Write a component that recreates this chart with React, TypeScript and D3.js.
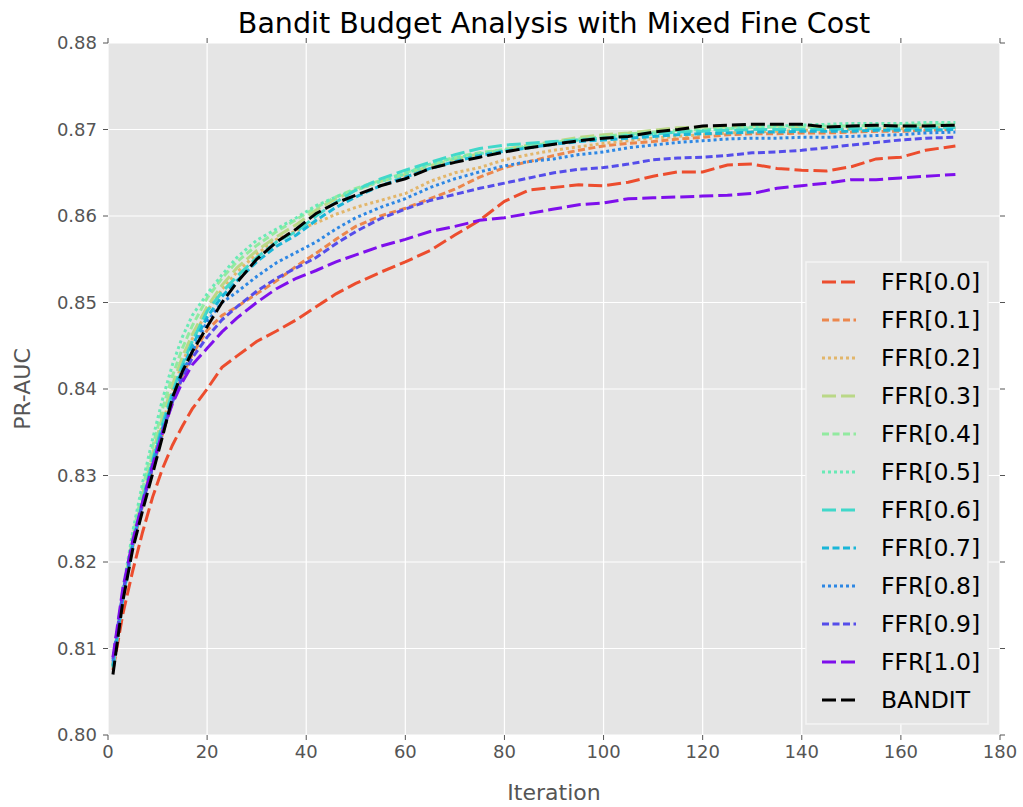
import React from "react";
import * as d3 from "d3";

// ---------- data ----------
const ITER = [1, 3, 5, 7, 9, 11, 13, 15, 17, 20, 23, 26, 30, 34, 38, 42, 46, 50, 55, 60, 65, 70, 75, 80, 85, 90, 95, 100, 105, 110, 115, 120, 125, 130, 135, 140, 145, 150, 155, 160, 165, 171];

const FFR_00 = [.8075, .8140, .8190, .8235, .8275, .8308, .8335, .8357, .8377, .8400, .8425, .8438, .8455, .8467, .8480, .8495, .8510, .8522, .8535, .8547, .8560, .8578, .8595, .8617, .8630, .8633, .8636, .8635, .8639, .8646, .8651, .8651, .8659, .8660, .8655, .8653, .8652, .8657, .8666, .8668, .8676, .8681];
const FFR_01 = [.8082, .8160, .8218, .8266, .8308, .8348, .8385, .8415, .8440, .8468, .8485, .8495, .8510, .8525, .8542, .8557, .8573, .8588, .8600, .8609, .8620, .8631, .8645, .8656, .8663, .8670, .8676, .8681, .8684, .8686, .8689, .8691, .8694, .8695, .8695, .8696, .8696, .8697, .8698, .8698, .8699, .8700];
const FFR_02 = [.8080, .8160, .8222, .8272, .8318, .8360, .8398, .8430, .8458, .8490, .8515, .8535, .8556, .8573, .8583, .8592, .8602, .8610, .8618, .8626, .8640, .8650, .8656, .8665, .8671, .8676, .8680, .8684, .8687, .8690, .8692, .8694, .8696, .8697, .8698, .8699, .8700, .8700, .8701, .8701, .8702, .8702];
const FFR_03 = [.8078, .8160, .8225, .8278, .8325, .8368, .8405, .8437, .8463, .8495, .8520, .8540, .8560, .8576, .8590, .8607, .8620, .8630, .8640, .8648, .8658, .8666, .8672, .8677, .8682, .8686, .8691, .8694, .8696, .8699, .8702, .8703, .8703, .8704, .8704, .8703, .8703, .8703, .8704, .8704, .8705, .8705];
const FFR_04 = [.8080, .8165, .8230, .8285, .8333, .8377, .8415, .8447, .8473, .8505, .8528, .8547, .8566, .8582, .8596, .8610, .8622, .8632, .8641, .8650, .8660, .8668, .8673, .8677, .8681, .8685, .8689, .8692, .8695, .8697, .8699, .8700, .8701, .8702, .8703, .8703, .8704, .8704, .8705, .8705, .8706, .8706];
const FFR_05 = [.8080, .8168, .8235, .8292, .8342, .8388, .8428, .8460, .8485, .8510, .8532, .8552, .8572, .8585, .8598, .8612, .8622, .8630, .8640, .8649, .8660, .8667, .8672, .8676, .8680, .8684, .8688, .8690, .8693, .8695, .8697, .8699, .8701, .8703, .8704, .8705, .8706, .8707, .8707, .8707, .8708, .8708];
const FFR_06 = [.8078, .8158, .8220, .8272, .8318, .8360, .8396, .8428, .8455, .8490, .8512, .8530, .8552, .8570, .8582, .8600, .8616, .8630, .8643, .8653, .8662, .8671, .8678, .8682, .8684, .8686, .8688, .8690, .8693, .8695, .8697, .8698, .8699, .8700, .8700, .8700, .8700, .8701, .8701, .8701, .8702, .8702];
const FFR_07 = [.8080, .8160, .8220, .8270, .8315, .8355, .8392, .8423, .8450, .8483, .8507, .8525, .8547, .8565, .8578, .8595, .8610, .8622, .8635, .8645, .8655, .8663, .8670, .8675, .8679, .8683, .8686, .8688, .8690, .8692, .8694, .8695, .8696, .8697, .8697, .8698, .8698, .8698, .8699, .8699, .8699, .8700];
const FFR_08 = [.8085, .8163, .8220, .8268, .8310, .8350, .8387, .8418, .8443, .8478, .8500, .8512, .8530, .8546, .8558, .8570, .8585, .8598, .8610, .8620, .8633, .8643, .8651, .8658, .8663, .8666, .8671, .8674, .8679, .8682, .8685, .8687, .8689, .8690, .8690, .8691, .8691, .8692, .8693, .8694, .8696, .8697];
const FFR_09 = [.8088, .8165, .8222, .8268, .8310, .8350, .8385, .8413, .8436, .8460, .8480, .8495, .8513, .8528, .8540, .8552, .8568, .8582, .8597, .8608, .8618, .8625, .8632, .8638, .8644, .8650, .8654, .8656, .8660, .8665, .8667, .8668, .8670, .8673, .8674, .8676, .8679, .8682, .8685, .8688, .8690, .8691];
const FFR_10 = [.8090, .8170, .8225, .8270, .8312, .8350, .8383, .8408, .8428, .8447, .8466, .8482, .8500, .8516, .8528, .8537, .8547, .8555, .8565, .8573, .8582, .8588, .8595, .8598, .8603, .8608, .8613, .8615, .8620, .8621, .8622, .8623, .8624, .8626, .8632, .8635, .8638, .8642, .8642, .8644, .8646, .8648];
const BANDIT = [.8070, .8155, .8215, .8260, .8302, .8345, .8390, .8420, .8443, .8472, .8500, .8523, .8550, .8570, .8585, .8603, .8615, .8624, .8635, .8643, .8655, .8662, .8668, .8674, .8679, .8683, .8687, .8690, .8692, .8697, .8700, .8704, .8705, .8706, .8706, .8706, .8703, .8704, .8705, .8704, .8704, .8705];

const SERIES_NAMES = ["FFR[0.0]", "FFR[0.1]", "FFR[0.2]", "FFR[0.3]", "FFR[0.4]", "FFR[0.5]", "FFR[0.6]", "FFR[0.7]", "FFR[0.8]", "FFR[0.9]", "FFR[1.0]", "BANDIT"];
const SERIES_VALUES = [FFR_00, FFR_01, FFR_02, FFR_03, FFR_04, FFR_05, FFR_06, FFR_07, FFR_08, FFR_09, FFR_10, BANDIT];

const X_TICKS = [0, 20, 40, 60, 80, 100, 120, 140, 160, 180];
const Y_TICKS = [0.80, 0.81, 0.82, 0.83, 0.84, 0.85, 0.86, 0.87, 0.88];

// ---------- styles ----------
function rainbow(v: number): string {
  const r = Math.min(1, Math.abs(2 * v - 0.5));
  const g = Math.sin(Math.PI * v);
  const b = Math.cos((Math.PI * v) / 2);
  const c = d3.rgb(r * 255, g * 255, b * 255).formatHex();
  return d3.interpolateRgb(c, "#707070")(0.13);
}
const COLORS = SERIES_NAMES.map((_, i) => (i === 11 ? "#000000" : rainbow((10 - i) / 11)));
const LONG = "14,5";
const SHORT = "7,3.5";
const DOT = "3,3";
const DASHES = [LONG, SHORT, DOT, LONG, SHORT, DOT, LONG, SHORT, DOT, SHORT, LONG, LONG];

const W = 1023, H = 807;
const M = { left: 108, right: 1000, top: 43, bottom: 735 };
const FONT = "'DejaVu Sans', sans-serif";

export default function App() {
  const x = d3.scaleLinear().domain([0, 180]).range([M.left, M.right]);
  const y = d3.scaleLinear().domain([0.80, 0.88]).range([M.bottom, M.top]);
  const line = d3.line<number>().x((_, i) => x(ITER[i])).y((d) => y(d));
  const tickColor = "#555555";

  const legX = 806, legY = 262, legW = 182, legH = 462;
  const rowY0 = 282, rowStep = 38;

  return (
    <svg width={W} height={H} style={{ position: "absolute", left: 0, top: 0, background: "#fff" }} fontFamily={FONT}>
      <rect x={M.left} y={M.top} width={M.right - M.left} height={M.bottom - M.top} fill="#e5e5e5" />
      {X_TICKS.map((t) => (
        <line key={"gx" + t} x1={x(t)} x2={x(t)} y1={M.top} y2={M.bottom} stroke="#ffffff" strokeWidth={1.2} />
      ))}
      {Y_TICKS.map((t) => (
        <line key={"gy" + t} x1={M.left} x2={M.right} y1={y(t)} y2={y(t)} stroke="#ffffff" strokeWidth={1.2} />
      ))}
      {/* tick marks */}
      {X_TICKS.map((t) => (
        <g key={"tx" + t} stroke={tickColor} strokeWidth={1}>
          <line x1={x(t)} x2={x(t)} y1={M.bottom} y2={M.bottom + 5} />
          <line x1={x(t)} x2={x(t)} y1={M.top} y2={M.top - 5} />
        </g>
      ))}
      {Y_TICKS.map((t) => (
        <g key={"ty" + t} stroke={tickColor} strokeWidth={1}>
          <line x1={M.left - 5} x2={M.left} y1={y(t)} y2={y(t)} />
          <line x1={M.right} x2={M.right + 5} y1={y(t)} y2={y(t)} />
        </g>
      ))}
      {X_TICKS.map((t) => (
        <text key={"lx" + t} x={x(t)} y={M.bottom + 23} textAnchor="middle" fontSize={18} fill={tickColor}>
          {t}
        </text>
      ))}
      {Y_TICKS.map((t) => (
        <text key={"ly" + t} x={M.left - 11} y={y(t) + 6} textAnchor="end" fontSize={18} fill={tickColor}>
          {t.toFixed(2)}
        </text>
      ))}
      {/* series */}
      <g fill="none">
        {SERIES_VALUES.map((vals, i) => (
          <path key={SERIES_NAMES[i]} d={line(vals) || ""} stroke={COLORS[i]} strokeWidth={3} strokeDasharray={DASHES[i]} />
        ))}
      </g>
      {/* titles */}
      <text x={554} y={33} textAnchor="middle" fontSize={28.5} fill="#000">
        Bandit Budget Analysis with Mixed Fine Cost
      </text>
      <text x={(M.left + M.right) / 2} y={800} textAnchor="middle" fontSize={22} fill={tickColor}>
        Iteration
      </text>
      <text transform={`translate(30, ${(M.top + M.bottom) / 2}) rotate(-90)`} textAnchor="middle" fontSize={22} fill={tickColor}>
        PR-AUC
      </text>
      {/* legend */}
      <rect x={legX} y={legY} width={legW} height={legH} fill="#e5e5e5" stroke="#f4f4f4" strokeWidth={1.5} />
      {SERIES_NAMES.map((name, i) => {
        const ry = rowY0 + i * rowStep;
        return (
          <g key={"leg" + name}>
            <line x1={822} x2={856} y1={ry} y2={ry} stroke={COLORS[i]} strokeWidth={3} strokeDasharray={DASHES[i]} />
            <text x={881} y={ry + 8} fontSize={23.5} fill="#000">
              {name}
            </text>
          </g>
        );
      })}
    </svg>
  );
}
